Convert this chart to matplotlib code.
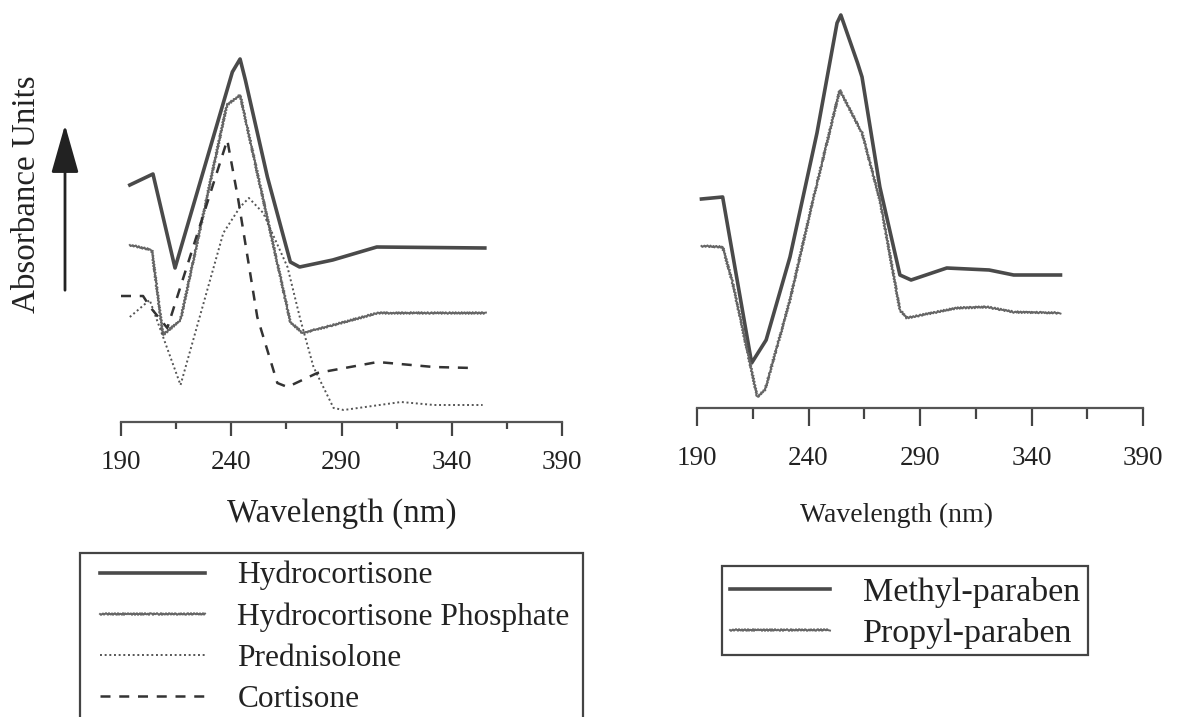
import matplotlib
matplotlib.use('Agg')
import matplotlib.pyplot as plt
from matplotlib.patches import FancyArrowPatch, Rectangle

plt.rcParams['font.family'] = ['Liberation Serif', 'DejaVu Serif']

# left panel: steroid spectra (wavelength in nm, arbitrary absorbance)
hc_nm = [194, 204.5, 214.5, 240.5, 244, 246.4, 256.4, 266.8, 271, 286, 306, 355]
hc_abs = [2.37, 2.48, 1.54, 3.50, 3.63, 3.42, 2.45, 1.60, 1.55, 1.62, 1.75, 1.74]

hcp_nm = [194, 204, 209, 217, 238, 244, 266.8, 272.3, 286.4, 306.4, 355.5]
hcp_abs = [1.77, 1.72, 0.87, 1.02, 3.17, 3.27, 1.00, 0.89, 0.97, 1.09, 1.09]

pred_nm = [194, 203, 217, 236.4, 244, 248, 254.5, 265.5, 271.4, 277.3, 286.4, 291, 317, 332, 354]
pred_abs = [1.05, 1.22, 0.37, 1.89, 2.15, 2.24, 2.09, 1.55, 1.02, 0.55, 0.14, 0.12, 0.20, 0.17, 0.17]

cort_nm = [190, 200, 203.2, 211, 238.2, 243.2, 251.8, 260.9, 265.5, 279, 306.4, 331.8, 349.5]
cort_abs = [1.26, 1.26, 1.15, 0.94, 2.82, 2.22, 1.05, 0.39, 0.35, 0.49, 0.60, 0.55, 0.54]

# right panel: parabens
meth_nm = [192, 201.5, 214.5, 221, 231.7, 243.8, 252.8, 254.5, 262, 264, 272, 281, 286, 302, 321, 332, 353]
meth_abs = [2.09, 2.11, 0.45, 0.68, 1.51, 2.75, 3.85, 3.93, 3.45, 3.31, 2.21, 1.33, 1.28, 1.40, 1.38, 1.33, 1.33]

prop_nm = [192, 201.5, 206, 217, 220.5, 231.7, 242, 254, 264, 272, 281, 284, 306.5, 320, 332, 353]
prop_abs = [1.62, 1.61, 1.25, 0.11, 0.18, 1.08, 2.08, 3.18, 2.75, 2.08, 0.98, 0.90, 1.00, 1.01, 0.96, 0.95]

x_major = [190, 240, 290, 340, 390]
x_minor = [215, 265, 315, 365]

W, H = 1177, 717
fig = plt.figure(figsize=(W / 100, H / 100), dpi=100)


def px(x, y):
    """pixel position (from top-left) -> figure fraction"""
    return x / W, 1 - y / H


# axes placed in pixel terms: left axis line at y=422, right at y=408
ax1 = fig.add_axes([121 / W, 1 - 422 / H, 441 / W, 422 / H])
ax2 = fig.add_axes([697 / W, 1 - 408 / H, 446 / W, 408 / H])
ax1.set_ylim(0, 4.22)
ax2.set_ylim(0, 4.08)

ax1.plot(hc_nm, hc_abs, color='#4a4a4a', lw=2.6, label='Hydrocortisone')
hcp_line, = ax1.plot(hcp_nm, hcp_abs, color='#666666', lw=1.4, label='Hydrocortisone Phosphate')
ax1.plot(pred_nm, pred_abs, color='#555555', lw=1.4, ls=(0, (1, 1.4)), label='Prednisolone')
ax1.plot(cort_nm, cort_abs, color='#333333', lw=1.8, ls=(0, (4, 3.5)), label='Cortisone')

ax2.plot(meth_nm, meth_abs, color='#4a4a4a', lw=2.6, label='Methyl-paraben')
prop_line, = ax2.plot(prop_nm, prop_abs, color='#666666', lw=1.4, label='Propyl-paraben')

# wiggly trace for the two "wavy" series
for ln in (hcp_line, prop_line):
    ln.set_sketch_params(0.9, 3, 1.5)

for ax, maj_len, min_len, pad in [(ax1, 10, 5, 10), (ax2, 13, 8, 14)]:
    ax.set_xlim(190, 390)
    for s in ['left', 'right', 'top']:
        ax.spines[s].set_visible(False)
    ax.spines['bottom'].set_color('#555555')
    ax.spines['bottom'].set_linewidth(1.6)
    ax.set_yticks([])
    ax.set_xticks(x_major)
    ax.set_xticks(x_minor, minor=True)
    ax.tick_params(axis='x', which='major', direction='out', length=maj_len, width=1.6,
                   color='#444444', pad=pad, labelsize=19.5, labelcolor='#222222')
    ax.tick_params(axis='x', which='minor', direction='out', length=min_len, width=1.6,
                   color='#444444')
    ax.patch.set_visible(False)

ax1.set_xlabel('Wavelength (nm)', fontsize=23.8, color='#222222', va='baseline')
ax1.xaxis.set_label_coords(0.5, -(522 - 422) / 422)
ax2.set_xlabel('Wavelength (nm)', fontsize=20, color='#222222', va='baseline')
ax2.xaxis.set_label_coords((896 - 697) / 446, -(522 - 408) / 408)

# legends: frameless entries inside hand-placed boxes
leg1 = fig.legend(handles=ax1.get_lines(), loc='upper left',
                  bbox_to_anchor=px(100, 561), fontsize=22.6, frameon=False,
                  handlelength=3.33, handletextpad=1.05, labelspacing=0.38,
                  borderpad=0, borderaxespad=0)
leg2 = fig.legend(handles=ax2.get_lines(), loc='upper left',
                  bbox_to_anchor=px(730, 577), fontsize=24.5, frameon=False,
                  handlelength=2.94, handletextpad=0.97, labelspacing=0.28,
                  borderpad=0, borderaxespad=0)
for leg in (leg1, leg2):
    for t in leg.get_texts():
        t.set_color('#222222')

for (x0, y0, x1, y1) in [(80, 553, 583, 730), (722, 566, 1088, 655)]:
    fig.add_artist(Rectangle(px(x0, y1), (x1 - x0) / W, (y1 - y0) / H,
                             transform=fig.transFigure, fill=False,
                             edgecolor='#444444', lw=1.6))

# y-axis caption with upward arrow
fig.text(27 / W, 1 - 194 / H, 'Absorbance Units', rotation=90, fontsize=23.8,
         color='#222222', ha='center', va='center')
arrow = FancyArrowPatch(px(65, 293), px(65, 122), transform=fig.transFigure,
                        arrowstyle='-|>,head_length=30,head_width=8.5',
                        color='#222222', lw=2)
fig.add_artist(arrow)

fig.savefig('out.png', dpi=100)
